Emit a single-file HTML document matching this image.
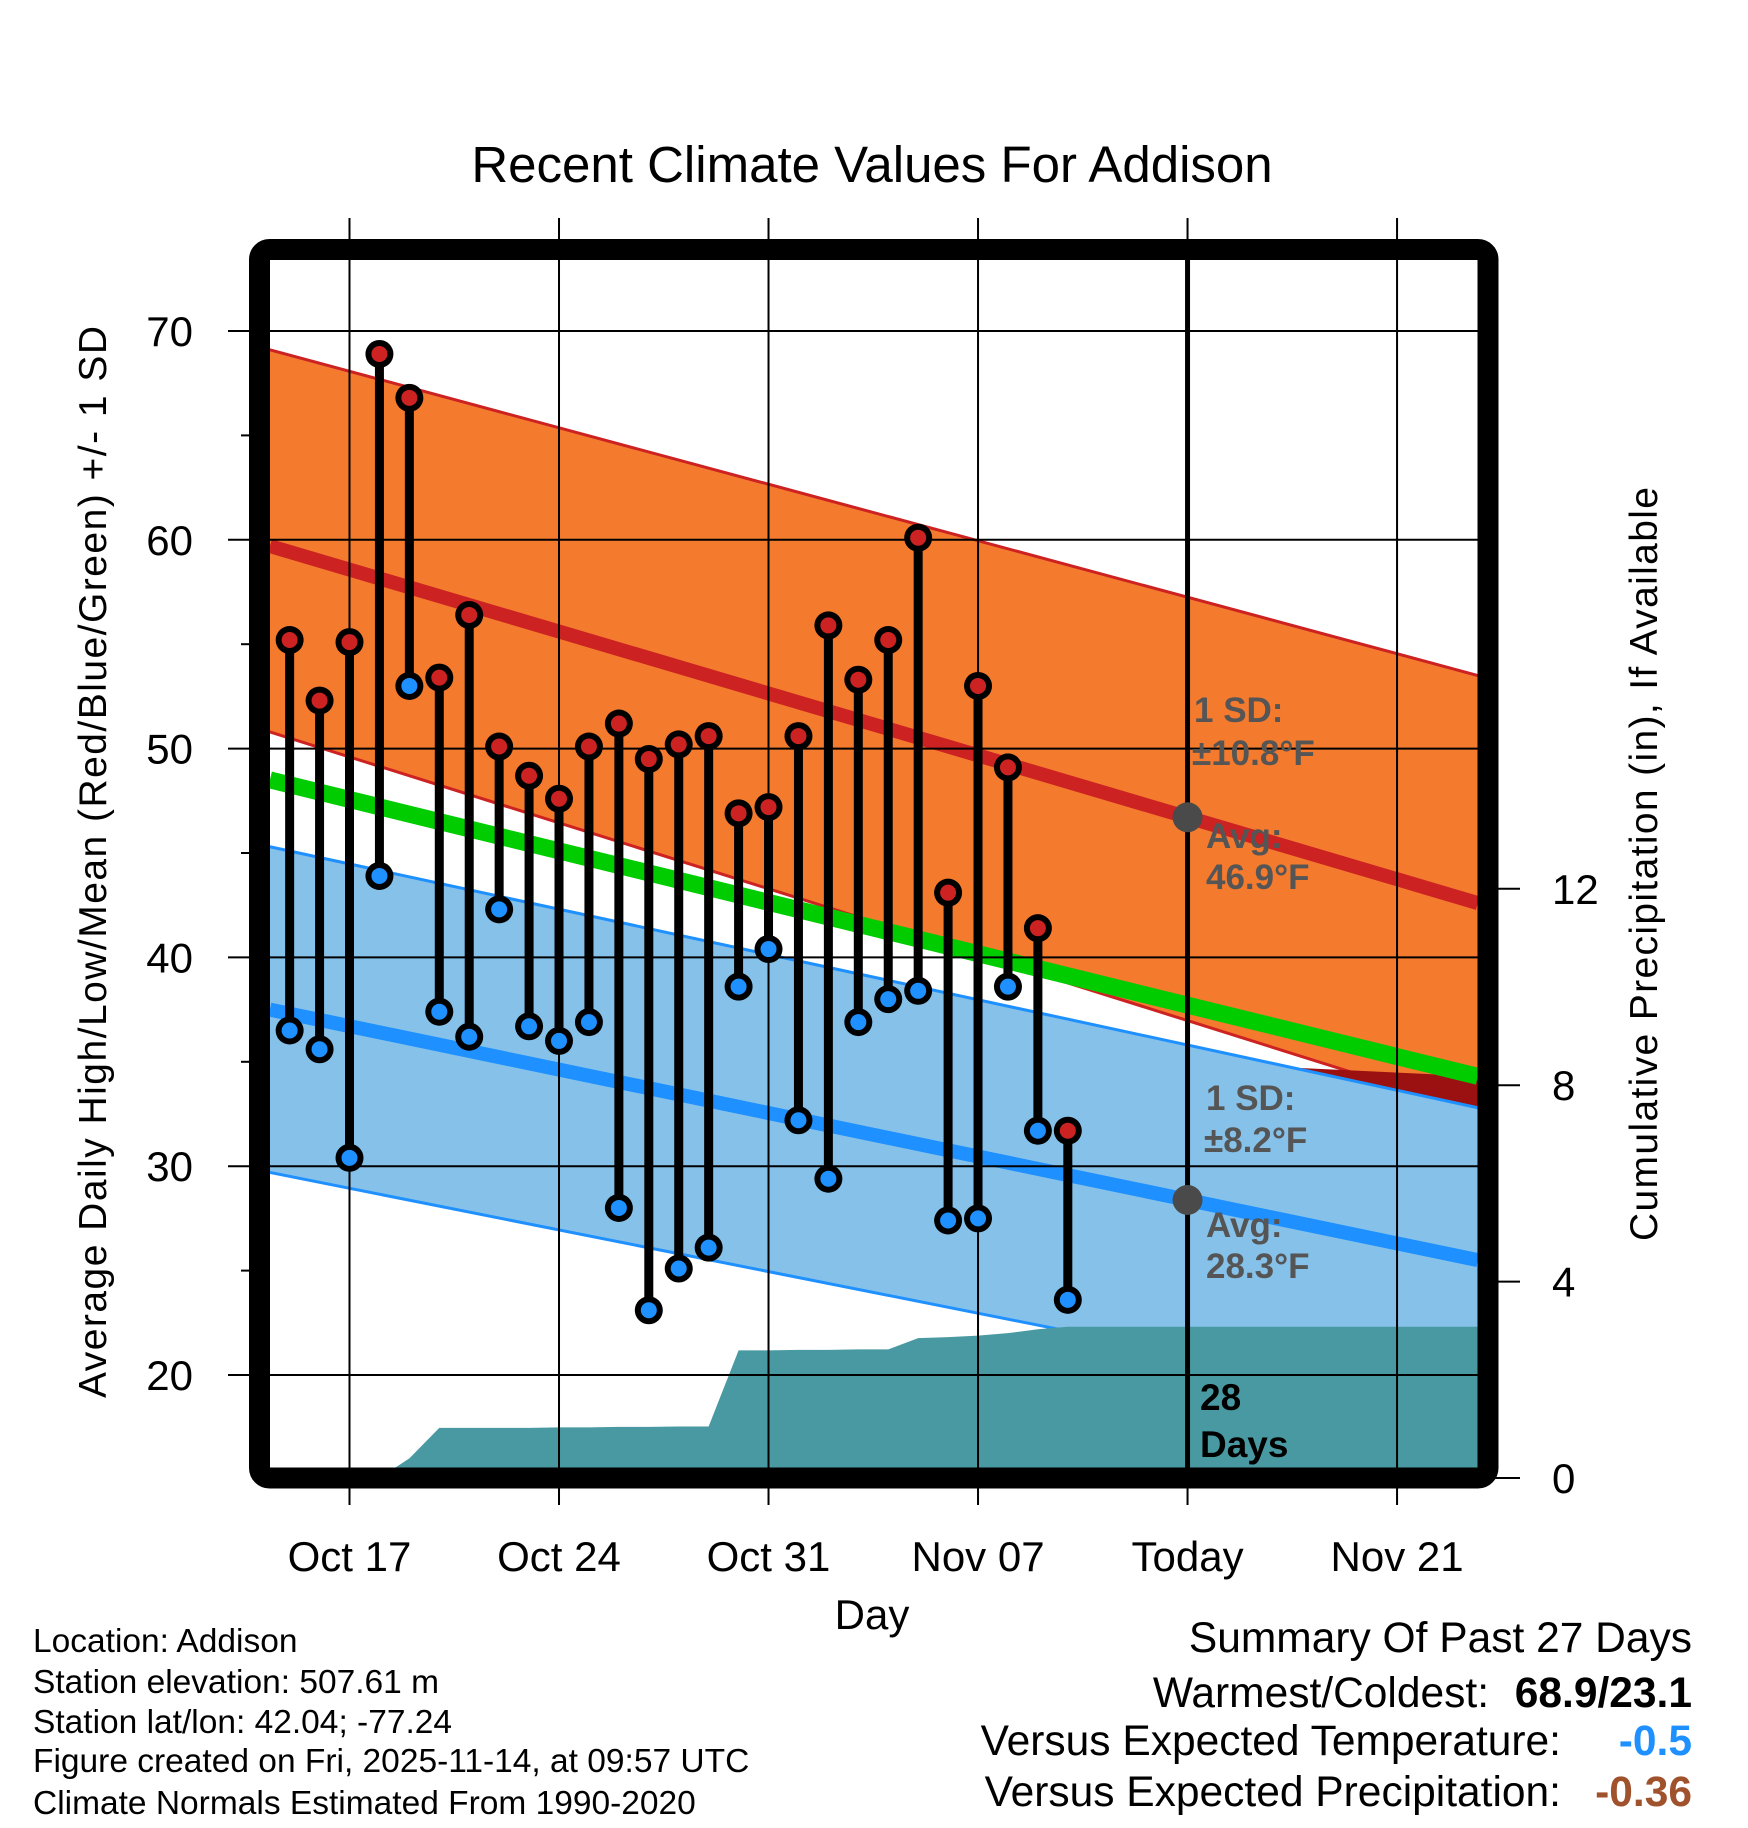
<!DOCTYPE html>
<html><head><meta charset="utf-8"><style>html,body{margin:0;padding:0;background:#fff}svg{display:block}text{font-family:"Liberation Sans",sans-serif}</style></head>
<body>
<svg id="chart" width="1748" height="1828" viewBox="0 0 1748 1828" xmlns="http://www.w3.org/2000/svg">
<g id="bands"></g><g id="grid"></g><g id="marks"></g><g id="frame"></g><g id="labels"></g>
</svg>
<script>
const days = ["Oct 15","Oct 16","Oct 17","Oct 18","Oct 19","Oct 20","Oct 21","Oct 22","Oct 23","Oct 24","Oct 25","Oct 26","Oct 27","Oct 28","Oct 29","Oct 30","Oct 31","Nov 01","Nov 02","Nov 03","Nov 04","Nov 05","Nov 06","Nov 07","Nov 08","Nov 09","Nov 10"];
const highs = [55.2,52.3,55.1,68.9,66.8,53.4,56.4,50.1,48.7,47.6,50.1,51.2,49.5,50.2,50.6,46.9,47.2,50.6,55.9,53.3,55.2,60.1,43.1,53.0,49.1,41.4,31.7];
const lows = [36.5,35.6,30.4,43.9,53.0,37.4,36.2,42.3,36.7,36.0,36.9,28.0,23.1,25.1,26.1,38.6,40.4,32.2,29.4,36.9,38.0,38.4,27.4,27.5,38.6,31.7,23.6];
const precip = [0,0,0,0,0.4,1.02,1.02,1.02,1.02,1.03,1.03,1.04,1.04,1.05,1.05,2.6,2.6,2.61,2.61,2.62,2.62,2.85,2.87,2.9,2.95,3.03,3.08];
const normHighAvg = [59.7,42.6];
const normHighUpper = [69.1,53.5];
const normHighLower = [50.8,32.6];
const normLowAvg = [37.5,25.5];
const normLowSD = [7.8,7.3];
const normMean = [48.5,34.3];
const yTicks = [20,30,40,50,60,70];
const pTicks = [0,4,8,12];
const xTickLabels = ["Oct 17","Oct 24","Oct 31","Nov 07","Today","Nov 21"];
const xTickDays = [2,9,16,23,30,37];
const todayIdx = 30;

const NS="http://www.w3.org/2000/svg";
const X0=270,X1=1478,Y0=260,Y1=1468;
const dayStart=-2.66+2, dayEnd=37.7+2;
function xs(d){return 349.5+(d-2)*29.93;}
function ys(v){return 331+(70-v)*20.88;}
function yp(p){return 1478-p*49.1;}
function el(tag,attrs,parent,txt){const e=document.createElementNS(NS,tag);for(const k in attrs)e.setAttribute(k,attrs[k]);if(txt!==undefined)e.textContent=txt;parent.appendChild(e);return e;}
const bands=document.getElementById('bands'),grid=document.getElementById('grid'),marks=document.getElementById('marks'),frame=document.getElementById('frame'),labels=document.getElementById('labels');
function lin(arr,d){const t=(d-dayStart)/(dayEnd-dayStart);return arr[0]+(arr[1]-arr[0])*t;}
const xa=xs(dayStart),xb=xs(dayEnd);
function sdPts(avg,sd,sign){return [lin(avg,dayStart)+sign*lin(sd,dayStart),lin(avg,dayEnd)+sign*lin(sd,dayEnd)];}
const hT=normHighUpper,hB=normHighLower;
let e=el('polygon',{points:`${xa},${ys(hT[0])} ${xb},${ys(hT[1])} ${xb},${ys(hB[1])} ${xa},${ys(hB[0])}`,fill:'#F47A2E'},bands);

el('line',{x1:xa,y1:ys(hT[0]),x2:xb,y2:ys(hT[1]),stroke:'#CC2222','stroke-width':3},bands);
el('line',{x1:xa,y1:ys(hB[0]),x2:xb,y2:ys(hB[1]),stroke:'#CC2222','stroke-width':3},bands);
const lT=sdPts(normLowAvg,normLowSD,1),lB=sdPts(normLowAvg,normLowSD,-1);
el('polygon',{points:`${xs(33.5)},${ys(lin(lT,33.5))} ${xb},${ys(lT[1])+1} ${xb},${ys(normMean[1])}`,fill:'#9B1010'},bands);
e=el('polygon',{points:`${xa},${ys(lT[0])} ${xb},${ys(lT[1])} ${xb},${ys(lB[1])} ${xa},${ys(lB[0])}`,fill:'#85C1E9'},bands);

el('line',{x1:xa,y1:ys(lT[0]),x2:xb,y2:ys(lT[1]),stroke:'#1E90FF','stroke-width':3},bands);
el('line',{x1:xa,y1:ys(lB[0]),x2:xb,y2:ys(lB[1]),stroke:'#1E90FF','stroke-width':3},bands);
let pp=`${xs(3)},${yp(0)} `;
for(let i=3;i<precip.length;i++)pp+=`${xs(i)},${yp(precip[i])} `;
pp+=`${xb},${yp(precip[precip.length-1])} ${xb},${Y1} ${xs(3)},${Y1}`;
e=el('polygon',{points:pp,fill:'#4899A1'},bands);

e=el('line',{x1:xa,y1:ys(normMean[0]),x2:xb,y2:ys(normMean[1]),stroke:'#00CC00','stroke-width':17},bands);

e=el('line',{x1:xa,y1:ys(normHighAvg[0]),x2:xb,y2:ys(normHighAvg[1]),stroke:'#CC2222','stroke-width':14},bands);

e=el('line',{x1:xa,y1:ys(normLowAvg[0]),x2:xb,y2:ys(normLowAvg[1]),stroke:'#1E90FF','stroke-width':14},bands);

yTicks.forEach(v=>{el('line',{x1:228,y1:ys(v),x2:X1,y2:ys(v),stroke:'#000','stroke-width':2},grid);
 e=el('text',{x:193,y:ys(v)+15,'font-size':42,'text-anchor':'end'},labels,String(v));
 });
[25,35,45,55,65].forEach(v=>el('line',{x1:241,y1:ys(v),x2:253,y2:ys(v),stroke:'#000','stroke-width':2},grid));
xTickDays.forEach((d,i)=>{el('line',{x1:xs(d),y1:218,x2:xs(d),y2:1505,stroke:'#000','stroke-width':2},grid);
 e=el('text',{x:xs(d),y:1571,'font-size':42,'text-anchor':'middle'},labels,xTickLabels[i]);
 });
pTicks.forEach(p=>{el('line',{x1:X1,y1:yp(p),x2:1520,y2:yp(p),stroke:'#000','stroke-width':2},grid);
 e=el('text',{x:1552,y:yp(p)+15,'font-size':42},labels,String(p));
 });
e=el('line',{x1:xs(todayIdx),y1:Y0,x2:xs(todayIdx),y2:Y1,stroke:'#000','stroke-width':5},marks);

for(let i=0;i<days.length;i++){
 const x=xs(i);
 e=el('line',{x1:x,y1:ys(highs[i]),x2:x,y2:ys(lows[i]),stroke:'#000','stroke-width':9},marks);
 
}
for(let i=0;i<days.length;i++){
 const x=xs(i);
 [[lows[i],'#1E90FF','low-marker'],[highs[i],'#CC2222','high-marker']].forEach(([v,c,n])=>{
  const g=el('g',{},marks);
  
  
  el('circle',{cx:x,cy:ys(v),r:14,fill:'#000'},g);
  el('circle',{cx:x,cy:ys(v),r:8,fill:c},g);
 });
}
const tx=xs(todayIdx);
el('circle',{cx:tx,cy:ys(lin(normHighAvg,todayIdx)),r:15,fill:'#4a4a4a'},marks);
el('circle',{cx:tx,cy:ys(lin(normLowAvg,todayIdx)),r:15,fill:'#4a4a4a'},marks);
e=el('rect',{x:259.5,y:249.5,width:1228.5,height:1228.5,rx:10,fill:'none',stroke:'#000','stroke-width':21},frame);

</script>
<svg style="position:absolute;left:0;top:0" width="1748" height="1828" xmlns="http://www.w3.org/2000/svg">
<text x="872" y="182" font-size="51" text-anchor="middle" font-family="Liberation Sans, sans-serif">Recent Climate Values For Addison</text>
<text transform="translate(106,862) rotate(-90)" font-size="39" text-anchor="middle" textLength="1072" font-family="Liberation Sans, sans-serif">Average Daily High/Low/Mean (Red/Blue/Green) +/- 1 SD</text>
<text transform="translate(1657,864) rotate(-90)" font-size="39" text-anchor="middle" textLength="754" font-family="Liberation Sans, sans-serif">Cumulative Precipitation (in), If Available</text>
<text x="872" y="1629" font-size="42" text-anchor="middle" font-family="Liberation Sans, sans-serif">Day</text>
<g font-family="Liberation Sans, sans-serif" font-weight="bold" font-size="35" fill="#555">
<text x="1194" y="722">1 SD:</text>
<text x="1192" y="765">±10.8°F</text>
<text x="1206" y="848">Avg:</text>
<text x="1206" y="889">46.9°F</text>
<text x="1206" y="1110">1 SD:</text>
<text x="1204" y="1152">±8.2°F</text>
<text x="1206" y="1237">Avg:</text>
<text x="1206" y="1278">28.3°F</text>
</g>
<text x="1200" y="1410" font-size="37" font-weight="bold" font-family="Liberation Sans, sans-serif">28</text>
<text x="1200" y="1457" font-size="37" font-weight="bold" font-family="Liberation Sans, sans-serif">Days</text>
<g font-family="Liberation Sans, sans-serif" font-size="33.5">
<text x="33" y="1652">Location: Addison</text>
<text x="33" y="1693">Station elevation: 507.61 m</text>
<text x="33" y="1733">Station lat/lon: 42.04; -77.24</text>
<text x="33" y="1772">Figure created on Fri, 2025-11-14, at 09:57 UTC</text>
<text x="33" y="1814">Climate Normals Estimated From 1990-2020</text>
</g>
<g font-family="Liberation Sans, sans-serif" font-size="42.5" text-anchor="end">
<text x="1692" y="1652">Summary Of Past 27 Days</text>
<text x="1489" y="1707">Warmest/Coldest:</text>
<text x="1692" y="1707" font-weight="bold">68.9/23.1</text>
<text x="1561" y="1755">Versus Expected Temperature:</text>
<text x="1692" y="1755" font-weight="bold" fill="#1E90FF">-0.5</text>
<text x="1561" y="1806">Versus Expected Precipitation:</text>
<text x="1692" y="1806" font-weight="bold" fill="#A0522D">-0.36</text>
</g>
</svg>
</body></html>
